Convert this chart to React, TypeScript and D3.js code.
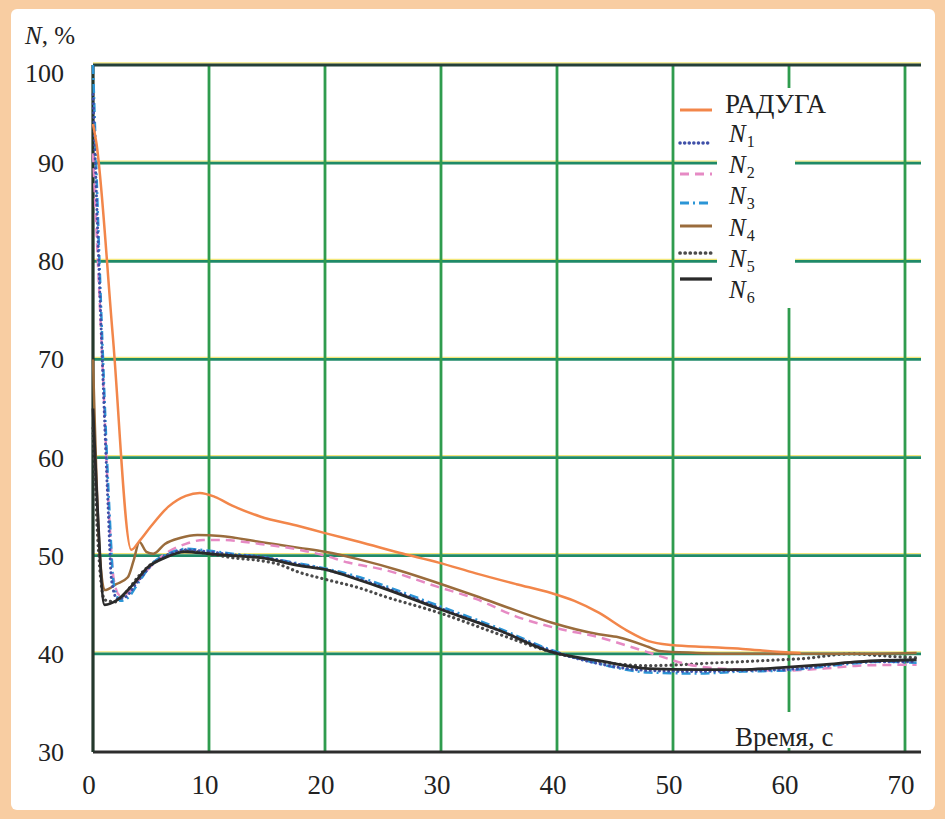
import React from "react";
import * as d3 from "d3";

// time, s / N, %
const raduga: [number, number][] = [
  [0, 94], [0.3, 92], [1.7, 72.5], [3.3, 50.6], [4, 51.5], [5, 53], [6.5, 55], [8, 56.1],
  [9.2, 56.4], [10.5, 56], [12, 55.1], [14.4, 54], [17.8, 53], [20, 52.3], [23, 51.4],
  [26.4, 50.3], [29.8, 49.3], [33, 48.2], [36.5, 47.1], [39.5, 46.2], [41.5, 45.4],
  [43.6, 44.2], [46, 42.4], [47.9, 41.3], [49.9, 40.9], [53, 40.7], [56, 40.5],
  [59.3, 40.2], [61, 40.1],
];
const n1: [number, number][] = [
  [0, 97], [0.8, 70], [1.3, 55], [1.6, 47.5], [2.1, 45.6], [2.8, 45.8], [3.8, 47.3],
  [5.2, 49.2], [6.5, 50.1], [8, 50.6], [10, 50.4], [12, 50.1], [14.4, 49.9], [17.8, 49.1],
  [20, 48.6], [23, 47.6], [25, 46.8], [29.8, 44.7], [35, 42.4], [39.5, 40.3], [43.6, 39],
  [47.9, 38.3], [52, 38.2], [56, 38.3], [59.7, 38.4], [63, 38.8], [65.4, 39.1], [68, 39.2],
  [71, 39.2],
];
const n2: [number, number][] = [
  [0, 91], [0.8, 70], [1.4, 54], [1.8, 47.5], [2.3, 46], [3, 46.2], [4, 47.6], [5.2, 49.2],
  [6.5, 50.4], [8, 51.2], [9.5, 51.6], [11, 51.6], [14.4, 51.2], [17.8, 50.6], [20, 50],
  [22, 49.3], [25, 48.6], [29.8, 46.8], [33, 45.6], [36.5, 43.8], [40, 42.6], [43.6, 41.7],
  [46.4, 40.7], [48.8, 39.8], [51, 39], [53, 38.6], [56, 38.4], [59.7, 38.3], [63, 38.5],
  [66, 38.8], [71, 38.9],
];
const n3: [number, number][] = [
  [0, 100], [0.8, 72], [1.4, 55], [1.8, 47], [2.4, 45.4], [3, 45.7], [4, 47.4], [5.2, 49.3],
  [6.5, 50.2], [8, 50.7], [10, 50.5], [12, 50.2], [14.4, 49.9], [17.8, 49.2], [20, 48.7],
  [23, 47.8], [25, 47], [29.8, 44.9], [35, 42.6], [39.5, 40.4], [43.6, 39], [47.9, 38.1],
  [52, 38], [56, 38.2], [59.7, 38.3], [63, 38.7], [65.4, 39], [68, 39.2], [71, 39.1],
];
const n4: [number, number][] = [
  [0, 70], [0.5, 52], [1, 46.5], [2, 47.1], [3, 47.8], [3.5, 49.5], [4, 51.4], [4.6, 50.4],
  [5.2, 50.2], [6.2, 51.2], [7.5, 51.8], [9, 52.1], [11, 52], [14.4, 51.4], [17.8, 50.8],
  [20, 50.4], [23, 49.6], [26.4, 48.5], [29.8, 47.2], [33, 45.9], [36.5, 44.4], [39.5, 43.2],
  [43.6, 42], [45.3, 41.7], [47.9, 40.7], [48.8, 40.3], [52, 40.1], [56, 40], [60, 40],
  [65, 40], [71, 40.1],
];
const n5: [number, number][] = [
  [0, 63], [0.4, 52], [1, 45.5], [2, 45.3], [3, 46.5], [4, 48], [5.2, 49.3], [6.5, 50.1],
  [8, 50.5], [10, 50.2], [12, 49.8], [14.4, 49.5], [15.8, 49.2], [17.8, 48.3], [20, 47.6],
  [23, 46.7], [25, 45.9], [29.8, 44.2], [35, 42], [39.5, 40.2], [43.6, 39.2], [47.9, 38.8],
  [53.9, 39.1], [59.3, 39.4], [61, 39.5], [65.4, 40], [68, 39.8], [71, 39.6],
];
const n6: [number, number][] = [
  [0, 65], [0.3, 57], [1, 45], [2.1, 45.5], [3.4, 47], [4.7, 48.8], [6.2, 49.8], [7.9, 50.4],
  [10, 50.2], [12, 50], [14.4, 49.8], [17.8, 49], [20, 48.6], [23, 47.5], [25, 46.7],
  [29.8, 44.6], [35, 42.4], [39.5, 40.2], [43.6, 39.3], [47.9, 38.5], [52.2, 38.4], [56, 38.4],
  [59.3, 38.6], [63, 38.9], [66, 39.2], [71, 39.4],
];

const xTicks = [0, 10, 20, 30, 40, 50, 60, 70];
const yTicks = [30, 40, 50, 60, 70, 80, 90, 100];
const gridX = [10, 20, 30, 40, 50, 60, 70];
const gridY = [40, 50, 60, 70, 80, 90];

const series = [
  { name: "N5", sub: "5", data: n5, color: "#4a4a4a", width: 3.2, dash: "0.1,5" },
  { name: "N4", sub: "4", data: n4, color: "#9a6c3c", width: 2.5, dash: "" },
  { name: "N2", sub: "2", data: n2, color: "#e68ac4", width: 2.5, dash: "9,6" },
  { name: "N3", sub: "3", data: n3, color: "#2b95d6", width: 2.5, dash: "9,4,2,4" },
  { name: "N1", sub: "1", data: n1, color: "#3f50a8", width: 3, dash: "0.1,4.5" },
  { name: "N6", sub: "6", data: n6, color: "#2a2a2a", width: 2.8, dash: "" },
  { name: "РАДУГА", sub: "", data: raduga, color: "#f2864a", width: 2.5, dash: "" },
];

const legendOrder = ["РАДУГА", "N1", "N2", "N3", "N4", "N5", "N6"];
const legendSymY = [110, 143, 174, 203, 226, 253, 279];
const legendTextY = [113, 142, 173, 204, 236, 267, 298];

export default function App() {
  const x = d3.scaleLinear().domain([0, 70]).range([93, 905]);
  const y = d3.scaleLinear().domain([30, 100]).range([752, 65]);
  const right = 921;
  const line = d3
    .line<[number, number]>()
    .x((d) => x(d[0]))
    .y((d) => y(d[1]))
    .curve(d3.curveMonotoneX);
  const serif = "'Liberation Serif', 'DejaVu Serif', serif";

  return (
    <svg width={945} height={819} style={{ position: "absolute", left: 0, top: 0 }} fontFamily={serif}>
      <rect x={0} y={0} width={945} height={819} fill="#f8cda2" />
      <rect x={11} y={9} width={924} height={801} rx={6} fill="#ffffff" />

      {/* grid */}
      {gridY.map((v) => (
        <g key={"gy" + v}>
          <line x1={x(0)} x2={right} y1={y(v) - 2} y2={y(v) - 2} stroke="#f3e77a" strokeWidth={1.2} />
          <line x1={x(0)} x2={right} y1={y(v)} y2={y(v)} stroke="#1f8a68" strokeWidth={2.8} />
        </g>
      ))}
      {gridX.map((v) => (
        <line key={"gx" + v} x1={x(v)} x2={x(v)} y1={y(100)} y2={y(30)} stroke="#2f9c4e" strokeWidth={2.8} />
      ))}
      <line x1={x(0)} x2={right} y1={y(100) - 2} y2={y(100) - 2} stroke="#f3e77a" strokeWidth={1.5} />
      <line x1={x(0)} x2={right} y1={y(100)} y2={y(100)} stroke="#24403a" strokeWidth={2.8} />
      <line x1={x(0)} x2={right} y1={y(30)} y2={y(30)} stroke="#2d2d2d" strokeWidth={2.8} />
      <line x1={x(0)} x2={x(0)} y1={y(100)} y2={y(30)} stroke="#24382c" strokeWidth={3.2} />

      {/* white patches where the grid is broken in the original */}
      <rect x={717} y={88} width={78} height={220} fill="#ffffff" />
      <rect x={730} y={712} width={130} height={36} fill="#ffffff" />

      {/* data */}
      {series.map((s) => (
        <path
          key={s.name}
          d={line(s.data) || ""}
          fill="none"
          stroke={s.color}
          strokeWidth={s.width}
          strokeDasharray={s.dash || undefined}
          strokeLinecap={s.dash.startsWith("0.1") ? "round" : "butt"}
          strokeLinejoin="round"
        />
      ))}

      {/* legend */}
      {legendOrder.map((name, i) => {
        const s = series.find((d) => d.name === name)!;
        return (
          <g key={"lg" + name}>
            <line
              x1={680}
              x2={712}
              y1={legendSymY[i]}
              y2={legendSymY[i]}
              stroke={s.color}
              strokeWidth={s.width + 0.5}
              strokeDasharray={s.dash || undefined}
              strokeLinecap={s.dash.startsWith("0.1") ? "round" : "butt"}
            />
            {s.sub ? (
              <text x={729} y={legendTextY[i]} fontSize={25} fill="#222">
                <tspan fontStyle="italic">N</tspan>
                <tspan fontSize={16} dx={1} dy={5}>
                  {s.sub}
                </tspan>
              </text>
            ) : (
              <text x={725} y={legendTextY[i]} fontSize={27} fill="#222">
                {name}
              </text>
            )}
          </g>
        );
      })}

      {/* tick labels */}
      {yTicks.map((v) => (
        <text key={"yt" + v} x={64} y={y(v) + 9 + (v === 100 ? 8 : 0)} textAnchor="end" fontSize={26} fill="#222">
          {v}
        </text>
      ))}
      {xTicks.map((v) => (
        <text key={"xt" + v} x={x(v) - 4} y={794} textAnchor="middle" fontSize={27} fill="#222">
          {v}
        </text>
      ))}
      <text x={25} y={44} fontSize={25} fill="#222">
        <tspan fontStyle="italic">N</tspan>, %
      </text>
      <text x={735} y={746} fontSize={27} fill="#222">
        Время, с
      </text>
    </svg>
  );
}
